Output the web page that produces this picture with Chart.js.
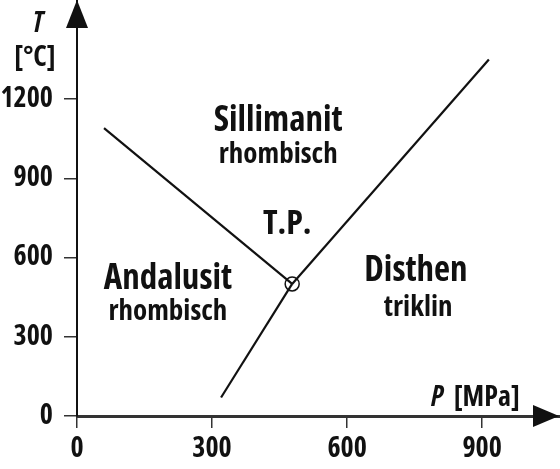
<!DOCTYPE html>
<html>
<head>
<meta charset="utf-8">
<script src="https://cdn.jsdelivr.net/npm/chart.js@4.4.1/dist/chart.umd.min.js"></script>
<style>
  html, body { margin: 0; padding: 0; background: #fff; }
  #wrap { width: 560px; height: 469px; }
</style>
</head>
<body>
<div id="wrap"><canvas id="phase"></canvas></div>
<script>
// phase boundaries, P in MPa, T in °C
const andSil = [{x: 60, y: 1090}, {x: 478, y: 500}];
const andDis = [{x: 320, y: 70}, {x: 478, y: 500}];
const silDis = [{x: 478, y: 500}, {x: 915, y: 1350}];
const triplePoint = [{x: 478, y: 500}];

const xTicks = [0, 300, 600, 900];
const yTicks = [0, 300, 600, 900, 1200];

// region names: [text, P, T, size, weight]
const labels = [
  ['Sillimanit', 447, 1117, 35, 'bold'],
  ['rhombisch', 447, 988, 29, 'bold'],
  ['T.P.', 467, 727, 34, 'bold'],
  ['Andalusit', 202, 519, 35, 'bold'],
  ['rhombisch', 202, 394, 29, 'bold'],
  ['Disthen', 753, 549, 35, 'bold'],
  ['triklin', 758, 409, 29, 'bold']
];

const FONT = '"Open Sans", "DejaVu Sans Condensed", sans-serif';
const INK = '#111';

function lineSet(data) {
  return {
    data: data,
    showLine: true,
    borderColor: INK,
    borderWidth: 2.2,
    pointRadius: 0,
    fill: false
  };
}

const decor = {
  id: 'decor',
  afterDraw(chart) {
    const ctx = chart.ctx;
    const xs = chart.scales.x, ys = chart.scales.y;
    const x0 = xs.getPixelForValue(0), y0 = ys.getPixelForValue(0);
    const area = chart.chartArea;
    ctx.save();
    ctx.fillStyle = INK;
    // arrow heads
    ctx.beginPath();
    ctx.moveTo(area.right - 1, y0);
    ctx.lineTo(area.right - 27, y0 - 11);
    ctx.lineTo(area.right - 27, y0 + 11);
    ctx.closePath();
    ctx.fill();
    ctx.beginPath();
    ctx.moveTo(x0, area.top);
    ctx.lineTo(x0 - 11, area.top + 28);
    ctx.lineTo(x0 + 11, area.top + 28);
    ctx.closePath();
    ctx.fill();

    // region labels
    ctx.textAlign = 'center';
    ctx.textBaseline = 'middle';
    labels.forEach(([t, p, temp, size, weight]) => {
      ctx.font = weight + ' condensed ' + size + 'px ' + FONT;
      ctx.fillText(t, xs.getPixelForValue(p), ys.getPixelForValue(temp));
    });

    // axis titles
    ctx.font = 'italic bold condensed 28px ' + FONT;
    ctx.fillText('T', x0 - 39, area.top + 24);
    ctx.font = 'bold condensed 28px ' + FONT;
    ctx.fillText('[°C]', x0 - 42, area.top + 58);
    ctx.textAlign = 'left';
    ctx.font = 'italic bold condensed 28px ' + FONT;
    ctx.fillText('P', area.right - 129, y0 - 18);
    ctx.font = 'bold condensed 28px ' + FONT;
    ctx.fillText('[MPa]', area.right - 106, y0 - 18);
    ctx.restore();
  }
};

new Chart(document.getElementById('phase'), {
  type: 'scatter',
  data: {
    datasets: [
      lineSet(andSil),
      lineSet(andDis),
      lineSet(silDis),
      {
        data: triplePoint,
        pointRadius: 7,
        pointBackgroundColor: '#fff',
        pointBorderColor: INK,
        pointBorderWidth: 1.5
      }
    ]
  },
  options: {
    responsive: true,
    maintainAspectRatio: false,
    animation: false,
    layout: { padding: 0, autoPadding: false },
    plugins: { legend: { display: false }, tooltip: { enabled: false } },
    scales: {
      x: {
        type: 'linear',
        min: 0,
        max: 1073,
        afterFit(s) { s.height = 53; s.paddingLeft = 0; s.paddingRight = 0; },
        afterBuildTicks(s) { s.ticks = xTicks.map(v => ({value: v})); },
        border: { display: true, color: '#333', width: 3 },
        grid: { drawOnChartArea: false, drawTicks: true, tickLength: 12, color: '#333', lineWidth: 1.5 },
        ticks: {
          padding: 4,
          color: INK,
          callback: v => String(v),
          font: { family: FONT, size: 28, weight: 'bold condensed' }
        }
      },
      y: {
        type: 'linear',
        min: 0,
        max: 1575,
        afterFit(s) { s.width = 77; s.paddingTop = 0; s.paddingBottom = 0; },
        afterBuildTicks(s) { s.ticks = yTicks.map(v => ({value: v})); },
        border: { display: true, color: INK, width: 2 },
        grid: { drawOnChartArea: false, drawTicks: true, tickLength: 13, color: '#333', lineWidth: 1.5 },
        ticks: {
          padding: 11,
          color: INK,
          callback: v => String(v),
          font: { family: FONT, size: 28, weight: 'bold condensed' }
        }
      }
    }
  },
  plugins: [decor]
});
</script>
</body>
</html>
